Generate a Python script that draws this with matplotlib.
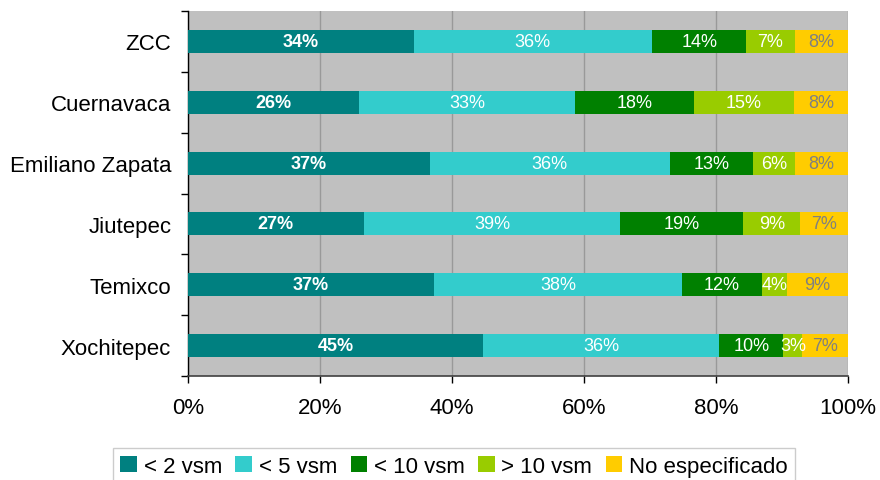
import matplotlib
matplotlib.use("Agg")
import matplotlib.pyplot as plt
from matplotlib.patches import Patch
import numpy as np

plt.rcParams['font.family'] = ['Liberation Sans', 'DejaVu Sans']

# Municipalities, top to bottom
municipios = ["ZCC", "Cuernavaca", "Emiliano Zapata", "Jiutepec", "Temixco", "Xochitepec"]

# Share of households by income bracket (% of total, per municipality)
series_names = ["< 2 vsm", "< 5 vsm", "< 10 vsm", "> 10 vsm", "No especificado"]
menos_2 = [34.2, 25.9, 36.6, 26.6, 37.3, 44.7]
menos_5 = [36.1, 32.7, 36.4, 38.9, 37.5, 35.8]
menos_10 = [14.3, 18.1, 12.6, 18.6, 12.2, 9.7]
mas_10 = [7.3, 15.1, 6.4, 8.7, 3.8, 2.9]
no_especificado = [8.1, 8.2, 8.0, 7.2, 9.2, 6.9]

x_ticks = [0, 20, 40, 60, 80, 100]
x_tick_labels = ["0%", "20%", "40%", "60%", "80%", "100%"]

colors = ["#008080", "#33CCCC", "#008000", "#99CC00", "#FFCC00"]
label_colors = ["white", "white", "white", "white", "#808080"]
label_weights = ["bold", "normal", "normal", "normal", "normal"]

series = [menos_2, menos_5, menos_10, mas_10, no_especificado]

fig = plt.figure(figsize=(8.8, 4.81), dpi=100)
ax = fig.add_axes([188 / 880, 1 - 377 / 481, 660 / 880, 365 / 481])
ax.set_facecolor("#C0C0C0")

y = np.arange(len(municipios))
left = np.zeros(len(municipios))
for vals, name, c, lc, lw in zip(series, series_names, colors, label_colors, label_weights):
    vals = np.array(vals)
    ax.barh(y, vals, left=left, height=0.38, color=c, label=name, zorder=3)
    for yi, l, v in zip(y, left, vals):
        ax.text(l + v / 2, yi, f"{v:.0f}%", ha="center", va="center",
                color=lc, fontsize=13, fontweight=lw, zorder=4)
    left += vals

ax.set_xlim(0, 100)
ax.set_ylim(len(municipios) - 0.5, -0.5)

ax.set_xticks(x_ticks)
ax.set_xticklabels(x_tick_labels, fontsize=16)
ax.tick_params(axis="x", direction="out", length=5, width=1, color="black", pad=10)

ax.set_yticks(y)
ax.set_yticklabels(municipios, fontsize=16)
ax.set_yticks(np.arange(len(municipios) + 1) - 0.5, minor=True)
ax.tick_params(axis="y", which="major", length=0, pad=12)
ax.tick_params(axis="y", which="minor", direction="out", length=5, width=1, color="black")

ax.grid(axis="x", color="#999999", linewidth=1, zorder=0)
ax.set_axisbelow(True)
for s in ["top", "right"]:
    ax.spines[s].set_visible(False)
ax.spines["left"].set_color("black")
ax.spines["bottom"].set_color("#404040")
ax.spines["left"].set_linewidth(1)
ax.spines["bottom"].set_linewidth(1.2)

handles = [Patch(facecolor=c, edgecolor="none") for c in colors]
leg = fig.legend(handles, series_names, loc="upper center", bbox_to_anchor=(454 / 880, 1 - 449 / 481),
                 ncol=5, fontsize=16, frameon=True, fancybox=False, handlelength=0.75,
                 handleheight=0.75, handletextpad=0.3, columnspacing=0.6,
                 borderpad=0.35, borderaxespad=0)
leg.get_frame().set_edgecolor("#C0C0C0")
leg.get_frame().set_linewidth(1)

fig.savefig("out.png", dpi=100)
